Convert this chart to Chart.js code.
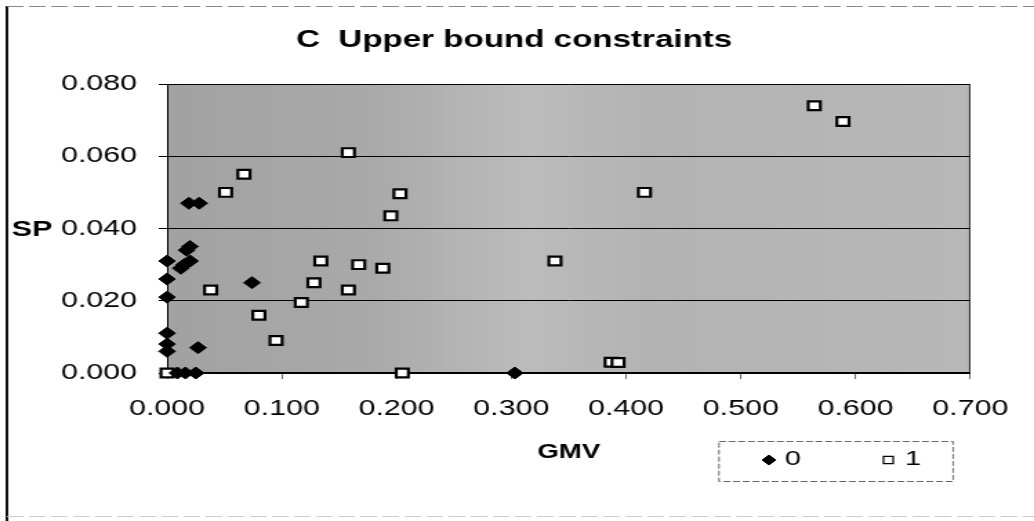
<!DOCTYPE html>
<html>
<head>
<meta charset="utf-8">
<script src="https://cdn.jsdelivr.net/npm/chart.js@4.4.1/dist/chart.umd.min.js"></script>
<style>
  html, body { margin: 0; padding: 0; background: #fff; overflow: hidden; }
</style>
</head>
<body>
<canvas id="c" width="749" height="521" style="display:block;width:1034px;height:521px;"></canvas>
<script>
// ---- data ----
const seriesLabels = ['0', '1'];
const gmv0 = [0.000, 0.000, 0.000, 0.000, 0.000, 0.000, 0.009, 0.016, 0.025,
              0.012, 0.020, 0.017, 0.020, 0.015, 0.019, 0.028, 0.074, 0.027, 0.303];
const sp0  = [0.031, 0.026, 0.021, 0.011, 0.008, 0.006, 0.000, 0.000, 0.000,
              0.029, 0.031, 0.034, 0.035, 0.030, 0.047, 0.047, 0.025, 0.007, 0.000];
const gmv1 = [0.000, 0.038, 0.051, 0.067, 0.080, 0.095, 0.117, 0.128, 0.134, 0.158, 0.158,
              0.167, 0.188, 0.195, 0.203, 0.205, 0.338, 0.387, 0.393, 0.416, 0.564, 0.589];
const sp1  = [0.000, 0.023, 0.050, 0.055, 0.016, 0.009, 0.0195, 0.025, 0.031, 0.023, 0.061,
              0.030, 0.029, 0.0435, 0.0496, 0.000, 0.031, 0.003, 0.0029, 0.050, 0.074, 0.0696];
const xTicks = [0.0, 0.1, 0.2, 0.3, 0.4, 0.5, 0.6, 0.7];
const yTicks = [0.00, 0.02, 0.04, 0.06, 0.08];
const titleText = 'C  Upper bound constraints';
const xTitle = 'GMV';
const yTitle = 'SP';

const pts = (xs, ys) => xs.map((x, i) => ({ x: x, y: ys[i] }));

Chart.defaults.font.family = "'Liberation Sans', Arial, sans-serif";
Chart.defaults.color = '#000';

const PLOT_LEFT = 121, PAD_LEFT = 42, PAD_RIGHT = 46.1, PLOT_BOTTOM = 373;

const decor = {
  id: 'decor',
  beforeDraw(chart) {
    const { ctx, chartArea: a } = chart;
    ctx.save();
    const g = ctx.createLinearGradient(a.left, 0, a.right, 0);
    g.addColorStop(0.0, '#a2a2a2');
    g.addColorStop(0.25, '#a9a9a9');
    g.addColorStop(0.45, '#bcbcbc');
    g.addColorStop(0.6, '#b3b3b3');
    g.addColorStop(1.0, '#b8b8b8');
    ctx.fillStyle = g;
    ctx.fillRect(a.left, a.top, a.right - a.left, a.bottom - a.top);
    ctx.restore();
  },
  beforeDatasetsDraw(chart) {
    const { ctx, chartArea: a } = chart;
    ctx.save();
    ctx.strokeStyle = '#222';
    ctx.lineWidth = 1;
    ctx.beginPath();
    ctx.moveTo(a.right - 0.5, a.top);
    ctx.lineTo(a.right - 0.5, a.bottom);
    ctx.stroke();
    ctx.restore();
  },
  afterDraw(chart) {
    const { ctx } = chart;
    const ys = chart.scales.y;
    ctx.save();
    // outer frame
    ctx.strokeStyle = '#111';
    ctx.lineWidth = 2;
    ctx.beginPath();
    ctx.moveTo(5, 6);
    ctx.lineTo(5, 521);
    ctx.stroke();
    ctx.lineWidth = 1;
    ctx.strokeStyle = '#888';
    ctx.setLineDash([12, 4]);
    ctx.beginPath();
    ctx.moveTo(5, 6.5);
    ctx.lineTo(749, 6.5);
    ctx.stroke();
    ctx.strokeStyle = '#ccc';
    ctx.beginPath();
    ctx.moveTo(5, 516.5);
    ctx.lineTo(749, 516.5);
    ctx.stroke();
    ctx.setLineDash([]);

    // y axis title "SP", horizontal, at the 0.040 level
    ctx.fillStyle = '#000';
    ctx.font = "bold 22px 'Liberation Sans', Arial, sans-serif";
    ctx.textAlign = 'left';
    ctx.textBaseline = 'middle';
    ctx.fillText(yTitle, 8.5, ys.getPixelForValue(0.04) + 1);

    // legend box
    const bx = 520.3, by = 441, bw = 169.6, bh = 40;
    ctx.strokeStyle = '#666';
    ctx.lineWidth = 1;
    ctx.setLineDash([5, 2]);
    ctx.strokeRect(bx + 0.5, by + 0.5, bw, bh);
    ctx.setLineDash([]);
    const items = [
      { mx: 557, tx: 568.5 },
      { mx: 643.5, tx: 655.5 }
    ];
    chart.data.datasets.forEach((ds, i) => {
      const it = items[i];
      ctx.fillStyle = ds.backgroundColor;
      ctx.strokeStyle = ds.borderColor;
      ctx.lineWidth = ds.legendBorder;
      Chart.helpers.drawPoint(ctx, { pointStyle: ds.pointStyle, radius: ds.legendRadius, borderWidth: ds.legendBorder }, it.mx, 460);
      ctx.fillStyle = '#000';
      ctx.font = "21px 'Liberation Sans', Arial, sans-serif";
      ctx.textAlign = 'left';
      ctx.textBaseline = 'middle';
      ctx.fillText(ds.label, it.tx, 459);
    });
    ctx.restore();
  }
};

new Chart(document.getElementById('c'), {
  type: 'scatter',
  data: {
    datasets: [
      {
        label: seriesLabels[0],
        data: pts(gmv0, sp0),
        pointStyle: 'rectRot',
        pointRadius: 6,
        pointHoverRadius: 6,
        backgroundColor: '#000',
        borderColor: '#000',
        borderWidth: 1,
        legendRadius: 5,
        legendBorder: 1,
        clip: false
      },
      {
        label: seriesLabels[1],
        data: pts(gmv1, sp1),
        pointStyle: 'rect',
        pointRadius: 6.2,
        pointHoverRadius: 6.2,
        backgroundColor: '#fff',
        borderColor: '#000',
        borderWidth: 2.2,
        legendRadius: 5,
        legendBorder: 1.2,
        clip: false
      }
    ]
  },
  options: {
    responsive: false,
    devicePixelRatio: 1,
    animation: false,
    events: [],
    layout: { padding: { left: PAD_LEFT, right: PAD_RIGHT, top: 0, bottom: 0 } },
    plugins: {
      legend: { display: false },
      tooltip: { enabled: false },
      title: {
        display: true,
        text: titleText,
        color: '#000',
        font: { size: 24, weight: 'bold' },
        padding: { top: 26, bottom: 29.2 }
      }
    },
    scales: {
      x: {
        type: 'linear',
        min: 0,
        max: 0.7,
        afterBuildTicks: (s) => { s.ticks = xTicks.map(v => ({ value: v })); },
        afterFit: (s) => { s.height = 521 - PLOT_BOTTOM; },
        ticks: {
          callback: (v) => Number(v).toFixed(3),
          font: { size: 22 },
          color: '#000',
          padding: 17,
          maxRotation: 0,
          autoSkip: false
        },
        grid: {
          drawOnChartArea: false,
          drawTicks: true,
          tickLength: 6,
          color: '#666'
        },
        border: { display: true, color: '#000', width: 2 },
        title: {
          display: true,
          text: xTitle,
          color: '#000',
          font: { size: 20, weight: 'bold' },
          padding: { top: 0, bottom: 57 }
        }
      },
      y: {
        type: 'linear',
        min: 0,
        max: 0.08,
        afterBuildTicks: (s) => { s.ticks = yTicks.map(v => ({ value: v })); },
        afterFit: (s) => { s.width = PLOT_LEFT - PAD_LEFT; },
        ticks: {
          callback: (v) => Number(v).toFixed(3),
          font: { size: 22 },
          color: '#000',
          padding: 15.7,
          autoSkip: false
        },
        grid: {
          color: '#000',
          lineWidth: 1,
          drawTicks: true,
          tickLength: 6
        },
        border: { display: true, color: '#000', width: 1 }
      }
    }
  },
  plugins: [decor]
});
</script>
</body>
</html>
